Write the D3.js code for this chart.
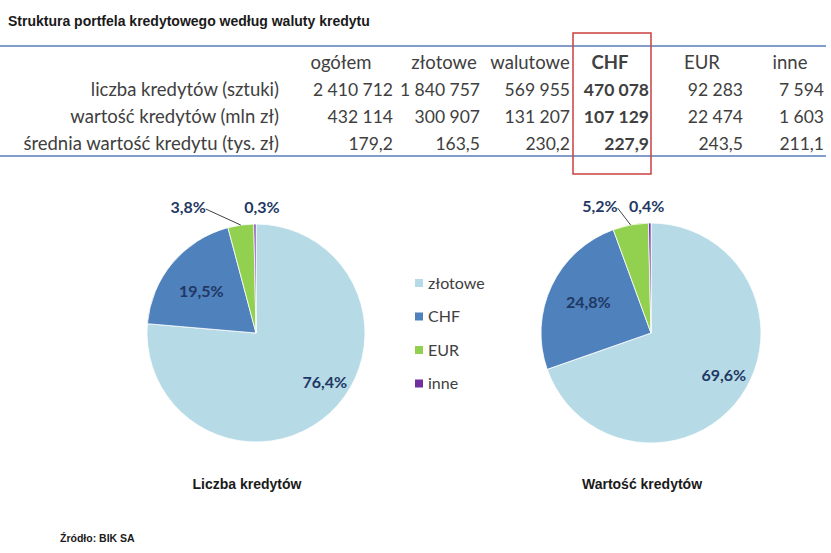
<!DOCTYPE html>
<html>
<head>
  <meta charset="utf-8">
  <script src="https://d3js.org/d3.v7.min.js"></script>
  <style>
    body { margin: 0; background: #fff; }
    .cell { font-family: Lato, sans-serif; font-size: 18.5px; fill: #404040; }
    .num { font-size: 17.5px; }
    .pct { font-family: Lato, sans-serif; font-size: 16px; font-weight: bold; fill: #1f3864; }
    .leg { font-family: Lato, sans-serif; font-size: 16px; fill: #404040; }
    .ttl { font-family: "Liberation Sans", Arial, sans-serif; font-weight: bold; fill: #1a1a1a; }
  </style>
</head>
<body>
<svg width="831" height="553"></svg>
<script>
  // table data
  const columns = ['ogółem', 'złotowe', 'walutowe', 'CHF', 'EUR', 'inne'];
  const rowLabels = ['liczba kredytów (sztuki)', 'wartość kredytów (mln zł)', 'średnia wartość kredytu (tys. zł)'];
  const liczba = [2410712, 1840757, 569955, 470078, 92283, 7594];
  const wartosc = [432114, 300907, 131207, 107129, 22474, 1603];
  const srednia = [179.2, 163.5, 230.2, 227.9, 243.5, 211.1];

  // pie data
  const pieCategories = ['złotowe', 'CHF', 'EUR', 'inne'];
  const pieColors = ['#b7dbe6', '#4f81bd', '#92d050', '#7030a0'];
  const liczbaPie = [1840757, 470078, 92283, 7594];
  const wartoscPie = [300907, 107129, 22474, 1603];

  const svg = d3.select('svg');

  //title
  svg.append('text')
    .attr('class', 'ttl')
    .attr('x', 8)
    .attr('y', 26)
    .style('font-size', '14px')
    .text('Struktura portfela kredytowego według waluty kredytu');

  //table layout
  const colRight = [393, 480, 570, 649, 743, 824];
  const headCenter = [341, 444, 530, 610, 702, 790];
  const rowY = d3.scaleLinear().domain([0, 1]).range([69, 96]);

  const fmtInt = v => d3.format(',')(v).replace(/,/g, '\u00a0');
  const fmtDec = v => d3.format('.1f')(v).replace('.', ',');

  svg.append('line')
    .attr('x1', 0).attr('x2', 826).attr('y1', 46).attr('y2', 46)
    .attr('stroke', '#5a7db8').attr('stroke-width', 1.5);
  svg.append('line')
    .attr('x1', 0).attr('x2', 826).attr('y1', 156).attr('y2', 156)
    .attr('stroke', '#5a7db8').attr('stroke-width', 1.5);

  svg.selectAll('.head').data(columns)
    .enter().append('text')
    .attr('class', 'cell head')
    .attr('x', (d, i) => headCenter[i])
    .attr('y', rowY(0))
    .attr('text-anchor', 'middle')
    .style('font-weight', d => d === 'CHF' ? 'bold' : null)
    .text(d => d);

  const rows = [liczba.map(fmtInt), wartosc.map(fmtInt), srednia.map(fmtDec)];

  rows.forEach((vals, r) => {
    svg.append('text')
      .attr('class', 'cell')
      .attr('x', 279)
      .attr('y', rowY(r + 1))
      .attr('text-anchor', 'end')
      .text(rowLabels[r]);
    svg.selectAll('.r' + r).data(vals)
      .enter().append('text')
      .attr('class', 'cell num r' + r)
      .attr('x', (d, i) => colRight[i])
      .attr('y', rowY(r + 1))
      .attr('text-anchor', 'end')
      .style('font-weight', (d, i) => columns[i] === 'CHF' ? 'bold' : null)
      .text(d => d);
  });

  //red box around CHF
  svg.append('rect')
    .attr('x', 573).attr('y', 33)
    .attr('width', 78).attr('height', 141)
    .attr('fill', 'none')
    .attr('stroke', '#c9403f')
    .attr('stroke-width', 1.5);

  //pies
  const pie = d3.pie().sort(null);
  const fmtPct = v => d3.format('.1f')(v * 100).replace('.', ',') + '%';

  // label placement for each pie: offsets from slice centroid / top
  const pies = [
    { values: liczbaPie, cx: 256, cy: 333, r: 109, title: 'Liczba kredytów',
      inside: [[32, 9], [-13, -7]], eurEnd: -35, inneX: 7 },
    { values: wartoscPie, cx: 651, cy: 333, r: 110, title: 'Wartość kredytów',
      inside: [[28, 11], [-13, -7]], eurEnd: -13, inneX: -3 }
  ];

  pies.forEach(p => {
    const total = d3.sum(p.values);
    const arcs = pie(p.values);
    const arc = d3.arc().innerRadius(0).outerRadius(p.r);
    const g = svg.append('g').attr('transform', `translate(${p.cx},${p.cy})`);

    g.selectAll('path').data(arcs)
      .enter().append('path')
      .attr('d', arc)
      .attr('fill', (d, i) => pieColors[i])
      .attr('stroke', '#fff')
      .attr('stroke-width', 0.8);

    arcs.forEach((a, i) => {
      const txt = fmtPct(a.value / total);
      if (i < 2) {
        const c = arc.centroid(a);
        g.append('text')
          .attr('class', 'pct')
          .attr('x', c[0] + p.inside[i][0])
          .attr('y', c[1] + p.inside[i][1])
          .attr('dy', '0.35em')
          .attr('text-anchor', 'middle')
          .text(txt);
      } else {
        const mid = (a.startAngle + a.endAngle) / 2;
        const ex = p.r * Math.sin(mid);
        const ey = -p.r * Math.cos(mid);
        const ly = -p.r - 17;
        if (i === 2) {
          const lx = ex + p.eurEnd;
          g.append('line')
            .attr('x1', lx).attr('y1', ly + 2)
            .attr('x2', ex).attr('y2', ey)
            .attr('stroke', '#404040').attr('stroke-width', 1);
          g.append('text')
            .attr('class', 'pct')
            .attr('x', lx)
            .attr('y', ly)
            .attr('dy', '0.35em')
            .attr('text-anchor', 'end')
            .text(txt);
        } else {
          g.append('text')
            .attr('class', 'pct')
            .attr('x', ex + p.inneX)
            .attr('y', ly)
            .attr('dy', '0.35em')
            .attr('text-anchor', 'middle')
            .text(txt);
        }
      }
    });

    svg.append('text')
      .attr('class', 'ttl')
      .attr('x', p.cx - 9)
      .attr('y', 489)
      .attr('text-anchor', 'middle')
      .style('font-size', '14px')
      .text(p.title);
  });

  //legend
  const legend = svg.selectAll('.legitem').data(pieCategories)
    .enter().append('g')
    .attr('class', 'legitem')
    .attr('transform', (d, i) => `translate(415, ${283 + i * 33.5})`);
  legend.append('rect')
    .attr('x', 0).attr('y', -4)
    .attr('width', 8).attr('height', 8)
    .attr('fill', (d, i) => pieColors[i]);
  legend.append('text')
    .attr('class', 'leg')
    .attr('x', 13)
    .attr('y', 0)
    .attr('dy', '0.35em')
    .text(d => d);

  //source
  svg.append('text')
    .attr('class', 'ttl')
    .attr('x', 60)
    .attr('y', 542)
    .style('font-size', '10.5px')
    .text('Źródło: BIK SA');
</script>
</body>
</html>
